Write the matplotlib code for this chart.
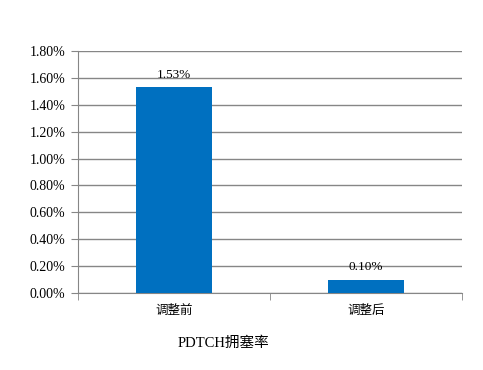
import matplotlib.pyplot as plt
from matplotlib.ticker import FuncFormatter, FixedLocator

categories = ['调整前', '调整后']
values = [0.0153, 0.0010]
value_labels = ['1.53%', '0.10%']
yticks = [0.0, 0.002, 0.004, 0.006, 0.008, 0.010, 0.012, 0.014, 0.016, 0.018]

serif = ['Liberation Serif', 'Noto Sans CJK SC']
cjk = ['Noto Sans CJK SC', 'DejaVu Sans']

fig = plt.figure(figsize=(4.83, 3.70), dpi=100)
ax = fig.add_axes([78 / 483, 77 / 370, 384 / 483, 242 / 370])

x = list(range(len(categories)))
ax.bar(x, values, width=0.4, color='#0070C0', zorder=3)
for xi, v, lab in zip(x, values, value_labels):
    ax.text(xi, v + 0.0005, lab, ha='center', va='bottom', fontsize=9.5, family=serif, zorder=4)

ax.set_xlim(-0.5, len(categories) - 0.5)
ax.set_ylim(0, 0.018)
ax.set_yticks(yticks)
ax.yaxis.set_major_formatter(FuncFormatter(lambda v, p: f'{v * 100:.2f}%'))
ax.grid(axis='y', color='#868686', linewidth=1, zorder=0)

ax.set_xticks(x)
ax.set_xticklabels(categories, family=cjk, fontsize=9)
ax.xaxis.set_minor_locator(FixedLocator([-0.5, 0.5, 1.5]))
ax.tick_params(axis='x', which='major', length=0, pad=8)
ax.tick_params(axis='x', which='minor', length=5, color='#868686')
ax.tick_params(axis='y', length=5, color='#868686', pad=4)
for t in ax.get_yticklabels():
    t.set_family(serif)
    t.set_fontsize(10)

for s in ['top', 'right']:
    ax.spines[s].set_visible(False)
for s in ['left', 'bottom']:
    ax.spines[s].set_color('#868686')

fig.text(223 / 483, 1 - 343 / 370, 'PDTCH拥塞率', ha='center', va='center', fontsize=10.5, family=serif)

fig.savefig('out.png', dpi=100)
